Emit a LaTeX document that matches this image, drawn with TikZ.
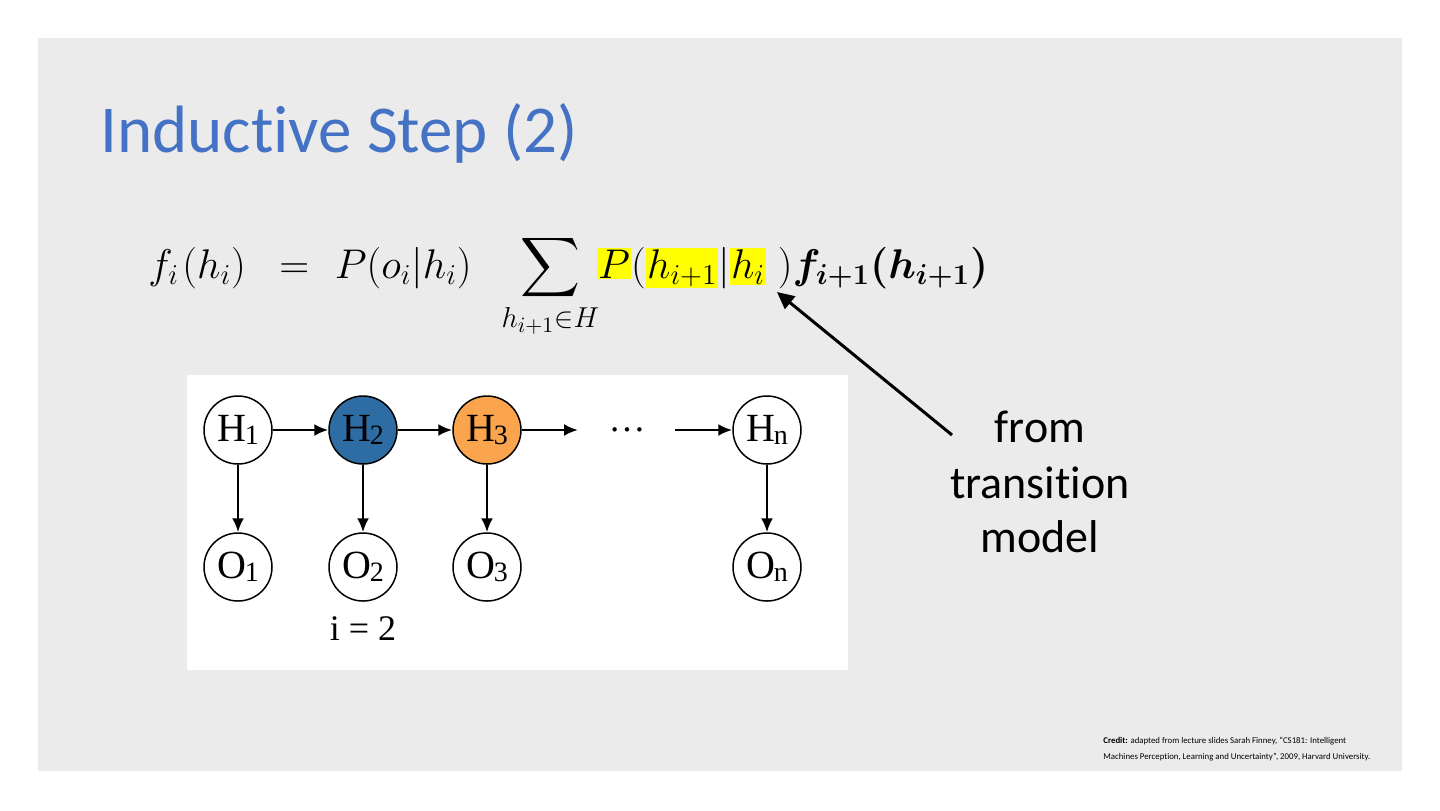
\documentclass[tikz,border=0pt]{standalone}
\usepackage{amsmath}
\usepackage[no-math]{fontspec}
\setmainfont{Carlito}[Ligatures=NoCommon]
\newfontfamily\timesf{Liberation Serif}
\usetikzlibrary{arrows.meta}
\definecolor{slidegray}{HTML}{EBEBEB}
\definecolor{titleblue}{HTML}{4472C4}
\definecolor{hmmblue}{HTML}{2E6DA4}
\definecolor{hmmorange}{HTML}{FAA44E}
\definecolor{hlyellow}{HTML}{FFFF00}
\newcommand{\hlm}[1]{{\setlength{\fboxsep}{0.6pt}\colorbox{hlyellow}{$#1$}}}
\newcommand{\hsub}[2]{#1\kern-0.03em\raisebox{-0.08em}{\fontsize{14}{14}\selectfont #2}}
\tikzset{
  hstate/.style={circle,draw=black,line width=0.75pt,minimum size=34pt,inner sep=0pt,
    font=\timesf\fontsize{20}{20}\selectfont},
  harrow/.style={line width=1.2pt,-{Latex[length=7pt,width=6pt]}},
  callout/.style={line width=1.5pt,-{Triangle[length=8.5pt,width=8pt]}},
  lbl/.style={inner sep=0pt,anchor=base},
}
\begin{document}
\begin{tikzpicture}[x=0.5pt,y=-0.5pt]
\useasboundingbox (0,0) rectangle (1440,810);
\fill[white] (0,0) rectangle (1440,810);
\fill[slidegray] (38,38) rectangle (1402,771);

% title
\node[inner sep=0pt,anchor=base west,text=titleblue,font=\fontsize{33.5}{40}\selectfont]
  (title) at (100,152) {Inductive Step (2)};

% equation
\node[inner sep=0pt,anchor=base west,font=\fontsize{22.5}{26}\selectfont] (eq) at (148,278)
  {$\displaystyle f_i\mkern1.5mu(h_i)\hspace{11pt} = \hspace{7pt}P(o_i|h_i)\hspace{11.5pt} \sum_{h_{i+1}\in H} \hspace{-4.5pt}\hlm{P}(\hlm{h_{i+1}}|\hlm{h_i}\;)\boldsymbol{f_{i+1}(h_{i+1})}$};

% diagram panel
\fill[white] (187,375) rectangle (848,670);
\node[hstate] (h1) at (238,430) {\hsub{H}{1}};
\node[hstate,fill=hmmblue] (h2) at (363,430) {\hsub{H}{2}};
\node[hstate,fill=hmmorange] (h3) at (487,430) {\hsub{H}{3}};
\node[hstate] (hn) at (767,430) {\hsub{H}{n}};
\node[hstate] (o1) at (238,567) {\hsub{O}{1}};
\node[hstate] (o2) at (363,567) {\hsub{O}{2}};
\node[hstate] (o3) at (487,567) {\hsub{O}{3}};
\node[hstate] (on) at (767,567) {\hsub{O}{n}};
\coordinate (d1) at (578,430);
\coordinate (d2) at (675,430);
\node[inner sep=0pt,font=\timesf\fontsize{18.5}{18.5}\selectfont] (dots) at (627,430) {…};
\draw[harrow] (h1) -- (h2);
\draw[harrow] (h2) -- (h3);
\draw[harrow] (h3) -- (d1);
\draw[harrow] (d2) -- (hn);
\draw[harrow] (h1) -- (o1);
\draw[harrow] (h2) -- (o2);
\draw[harrow] (h3) -- (o3);
\draw[harrow] (hn) -- (on);
\node[lbl,font=\timesf\fontsize{18}{18}\selectfont] (ilabel) at (363,640) {i = 2};

% callout
\node[lbl,font=\fontsize{23}{27}\selectfont] (from) at (1040,442) {from};
\node[lbl,font=\fontsize{23}{27}\selectfont] (transition) at (1040,498) {transition};
\node[lbl,font=\fontsize{23}{27}\selectfont] (model) at (1040,552) {model};
\coordinate (tail) at (952,435);
\coordinate (tip) at (777,292);
\draw[callout] (tail) -- (tip);

% credit
\node[inner sep=0pt,anchor=base west,font=\fontsize{4.4}{6}\selectfont] (credit1) at (1103,743)
  {\textbf{Credit:} adapted from lecture slides Sarah Finney, “CS181: Intelligent};
\node[inner sep=0pt,anchor=base west,font=\fontsize{4.4}{6}\selectfont] (credit2) at (1103,759)
  {Machines Perception, Learning and Uncertainty”, 2009, Harvard University.};
\end{tikzpicture}
\end{document}
